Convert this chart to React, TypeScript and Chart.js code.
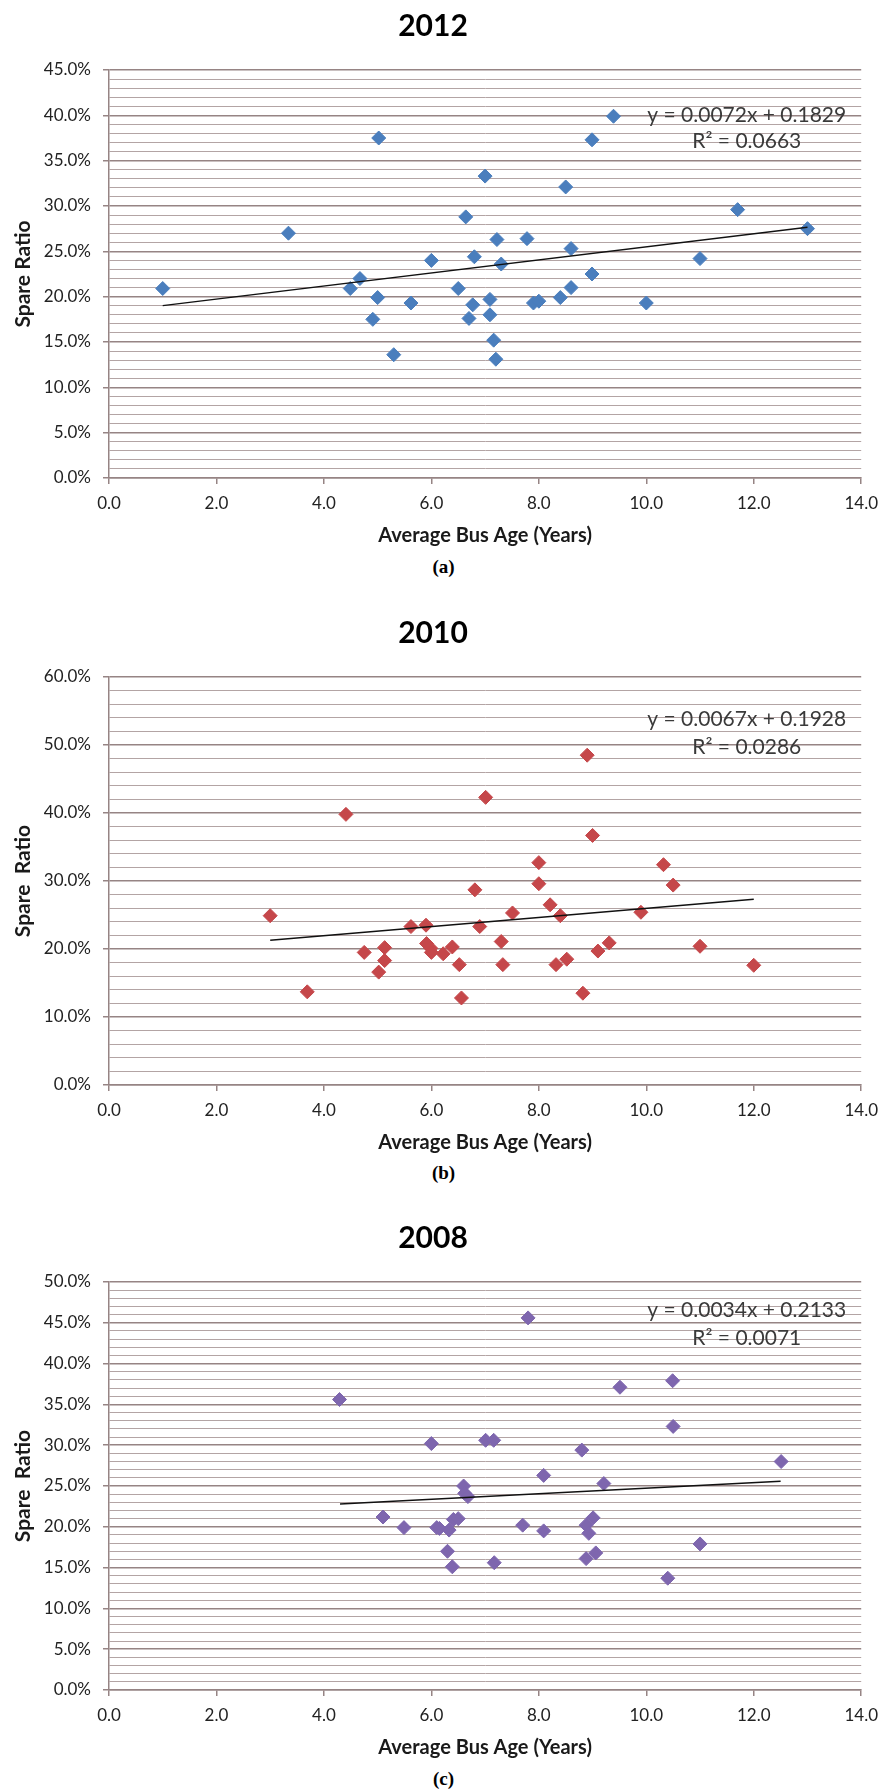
import React, { useEffect, useRef } from "react";
import { Chart, registerables } from "chart.js";

Chart.register(...registerables);

// ---- 2012 ----
const age2012 = [1.0, 3.34, 4.49, 4.67, 5.02, 5.0, 4.91, 5.3, 5.62, 6.0, 6.5, 6.64, 6.7, 6.77, 6.8, 7.0, 7.09, 7.09, 7.16, 7.2, 7.22, 7.3, 7.78, 7.9, 8.0, 8.4, 8.5, 8.6, 8.6, 8.99, 8.99, 9.39, 10.0, 11.0, 11.7, 13.0];
const spare2012 = [20.9, 27.0, 20.9, 22.0, 37.5, 19.9, 17.5, 13.6, 19.3, 24.0, 20.9, 28.8, 17.6, 19.1, 24.4, 33.3, 19.7, 18.0, 15.2, 13.1, 26.3, 23.6, 26.4, 19.3, 19.5, 19.9, 32.1, 25.3, 21.0, 37.3, 22.5, 39.9, 19.3, 24.2, 29.6, 27.5];
const slope2012 = 0.0072;
const intercept2012 = 0.1829;
const rSquared2012 = "0.0663";
const trendRange2012 = [1.0, 13.0];

// ---- 2010 ----
const age2010 = [3.0, 3.69, 4.41, 4.75, 5.02, 5.13, 5.13, 5.62, 5.9, 5.91, 5.99, 6.0, 6.22, 6.39, 6.52, 6.56, 6.81, 6.9, 7.01, 7.3, 7.33, 7.51, 8.0, 8.0, 8.21, 8.32, 8.4, 8.52, 8.82, 8.9, 9.0, 9.1, 9.31, 9.9, 10.32, 10.5, 11.0, 12.0];
const spare2010 = [24.9, 13.7, 39.8, 19.5, 16.6, 20.2, 18.3, 23.3, 23.5, 20.8, 20.1, 19.5, 19.3, 20.3, 17.7, 12.8, 28.7, 23.3, 42.3, 21.1, 17.7, 25.3, 32.7, 29.6, 26.5, 17.7, 24.9, 18.5, 13.5, 48.5, 36.7, 19.7, 20.9, 25.4, 32.4, 29.4, 20.4, 17.6];
const slope2010 = 0.0067;
const intercept2010 = 0.1928;
const rSquared2010 = "0.0286";
const trendRange2010 = [3.0, 12.0];

// ---- 2008 ----
const age2008 = [4.29, 5.1, 5.49, 6.0, 6.1, 6.15, 6.3, 6.33, 6.39, 6.41, 6.5, 6.6, 6.62, 6.68, 7.01, 7.16, 7.17, 7.7, 7.8, 8.09, 8.09, 8.8, 8.88, 8.88, 8.93, 9.01, 9.06, 9.21, 9.51, 10.4, 10.49, 10.5, 11.0, 12.51];
const spare2008 = [35.6, 21.2, 19.9, 30.2, 19.9, 19.8, 17.0, 19.6, 15.1, 20.9, 21.0, 25.0, 24.1, 23.7, 30.6, 30.6, 15.6, 20.2, 45.6, 26.3, 19.5, 29.4, 20.2, 16.1, 19.2, 21.1, 16.8, 25.3, 37.1, 13.7, 37.9, 32.3, 17.9, 28.0];
const slope2008 = 0.0034;
const intercept2008 = 0.2133;
const rSquared2008 = "0.0071";
const trendRange2008 = [4.3, 12.5];

// shared axis settings
const xTickMax = 14;
const xTickStep = 2;

const CANVAS_W = 887;
const CANVAS_H = 555;
const PLOT_LEFT = 109;
const PLOT_BOTTOM = 478;
const PLOT_RIGHT_PAD = 21;

const GRID_MAJOR = "#968484";
const GRID_MINOR = "#b3a4a4";
const TICK_TEXT = "#222222";

type PanelProps = {
  title: string;
  xs: number[];
  ys: number[];
  color: string;
  slope: number;
  intercept: number;
  r2: string;
  trendRange: number[];
  yMax: number;
  yMajor: number;
  yMinor: number;
  yTitle: string;
  eqPos: { x: number; y1: number; y2: number };
  top: number;
};

function fmtCoef(v: number) {
  return v.toFixed(4);
}

function Panel(props: PanelProps) {
  const ref = useRef<HTMLCanvasElement | null>(null);

  useEffect(() => {
    const canvas = ref.current;
    if (!canvas) return;
    const isMajor = (v: number) => {
      const q = v / props.yMajor;
      return Math.abs(q - Math.round(q)) < 1e-6;
    };
    const points = props.xs.map((x, i) => ({ x, y: props.ys[i] }));
    const trend = props.trendRange.map((x) => ({
      x,
      y: (props.slope * x + props.intercept) * 100,
    }));

    const equationPlugin = {
      id: "trendEquation",
      afterDatasetsDraw(chart: any) {
        const { ctx, scales } = chart;
        const px = scales.x.getPixelForValue(props.eqPos.x);
        ctx.save();
        ctx.font = "21px Lato";
        ctx.fillStyle = "#3a3a3a";
        ctx.textAlign = "center";
        ctx.textBaseline = "middle";
        ctx.fillText(
          `y = ${fmtCoef(props.slope)}x + ${fmtCoef(props.intercept)}`,
          px,
          scales.y.getPixelForValue(props.eqPos.y1)
        );
        ctx.fillText(`R² = ${props.r2}`, px, scales.y.getPixelForValue(props.eqPos.y2));
        ctx.restore();
      },
    };

    const chart = new Chart(canvas, {
      type: "scatter",
      data: {
        datasets: [
          {
            type: "scatter",
            data: points,
            pointStyle: "rectRot",
            pointRadius: 7,
            backgroundColor: props.color,
            borderColor: props.color,
            borderWidth: 1,
            order: 1,
          } as any,
          {
            type: "line",
            data: trend,
            borderColor: "#111111",
            borderWidth: 1.4,
            pointRadius: 0,
            fill: false,
            tension: 0,
            order: 0,
          } as any,
        ],
      },
      options: {
        responsive: false,
        animation: false,
        devicePixelRatio: 1,
        layout: { padding: { left: 0, right: PLOT_RIGHT_PAD, top: 0, bottom: 0 } },
        plugins: {
          legend: { display: false },
          tooltip: { enabled: false },
          title: {
            display: true,
            text: props.title,
            color: "#000",
            font: { family: "Lato", size: 30, weight: "bold" },
            padding: { top: 8, bottom: 26 },
          },
        },
        scales: {
          x: {
            type: "linear",
            min: 0,
            max: xTickMax,
            afterFit: (s: any) => {
              s.height = CANVAS_H - PLOT_BOTTOM;
            },
            ticks: {
              stepSize: xTickStep,
              autoSkip: false,
              padding: 9,
              color: TICK_TEXT,
              font: { family: "Lato", size: 17 },
              callback: (v: any) => Number(v).toFixed(1),
            },
            grid: {
              drawOnChartArea: false,
              drawTicks: true,
              tickLength: 6,
              color: GRID_MAJOR,
              tickColor: GRID_MAJOR,
              lineWidth: 1.5,
            },
            border: { color: GRID_MAJOR, width: 1.5 },
            title: {
              display: true,
              text: "Average Bus Age (Years)",
              color: "#1a1a1a",
              font: { family: "Lato", size: 20, weight: "bold" },
              padding: { top: 0, bottom: 7.5 },
            },
          },
          y: {
            type: "linear",
            min: 0,
            max: props.yMax,
            afterFit: (s: any) => {
              s.width = PLOT_LEFT;
            },
            ticks: {
              stepSize: props.yMinor,
              autoSkip: false,
              maxTicksLimit: 500,
              padding: 12,
              color: TICK_TEXT,
              font: { family: "Lato", size: 17 },
              callback: (v: any) => (isMajor(Number(v)) ? Number(v).toFixed(1) + "%" : ""),
            },
            grid: {
              drawTicks: true,
              tickLength: 6,
              color: (c: any) => (!c.tick || isMajor(c.tick.value) ? GRID_MAJOR : GRID_MINOR),
              lineWidth: (c: any) => (!c.tick || isMajor(c.tick.value) ? 1.5 : 1),
              tickColor: (c: any) =>
                !c.tick || isMajor(c.tick.value) ? GRID_MAJOR : "rgba(0,0,0,0)",
            },
            border: { color: GRID_MAJOR, width: 1.5 },
            title: {
              display: true,
              text: props.yTitle,
              color: "#1a1a1a",
              font: { family: "Lato", size: 21, weight: "bold" },
              padding: { top: 10.5, bottom: 0 },
            },
          },
        },
      } as any,
      plugins: [equationPlugin],
    });

    return () => chart.destroy();
  }, []);

  return (
    <canvas
      ref={ref}
      width={CANVAS_W}
      height={CANVAS_H}
      style={{
        position: "absolute",
        left: 0,
        top: props.top,
        width: CANVAS_W,
        height: CANVAS_H,
      }}
    />
  );
}

function Caption({ text, center }: { text: string; center: number }) {
  return (
    <div
      style={{
        position: "absolute",
        left: 0,
        width: CANVAS_W,
        top: center - 11,
        height: 22,
        lineHeight: "22px",
        textAlign: "center",
        fontFamily: "'Liberation Serif', 'Times New Roman', serif",
        fontWeight: "bold",
        fontSize: 19,
        color: "#000",
      }}
    >
      {text}
    </div>
  );
}

export default function App() {
  return (
    <div
      style={{
        position: "absolute",
        left: 0,
        top: 0,
        width: 887,
        height: 1789,
        background: "#ffffff",
        overflow: "hidden",
      }}
    >
      <Panel
        title="2012"
        xs={age2012}
        ys={spare2012}
        color="#4a7ebd"
        slope={slope2012}
        intercept={intercept2012}
        r2={rSquared2012}
        trendRange={trendRange2012}
        yMax={45}
        yMajor={5}
        yMinor={1}
        yTitle="Spare Ratio"
        eqPos={{ x: 11.87, y1: 40.0, y2: 37.1 }}
        top={0}
      />
      <Caption text="(a)" center={567} />
      <Panel
        title="2010"
        xs={age2010}
        ys={spare2010}
        color="#c5474a"
        slope={slope2010}
        intercept={intercept2010}
        r2={rSquared2010}
        trendRange={trendRange2010}
        yMax={60}
        yMajor={10}
        yMinor={2}
        yTitle="Spare  Ratio"
        eqPos={{ x: 11.87, y1: 53.8, y2: 49.7 }}
        top={607}
      />
      <Caption text="(b)" center={1173} />
      <Panel
        title="2008"
        xs={age2008}
        ys={spare2008}
        color="#7e66ae"
        slope={slope2008}
        intercept={intercept2008}
        r2={rSquared2008}
        trendRange={trendRange2008}
        yMax={50}
        yMajor={5}
        yMinor={1}
        yTitle="Spare  Ratio"
        eqPos={{ x: 11.87, y1: 46.5, y2: 43.1 }}
        top={1212}
      />
      <Caption text="(c)" center={1779} />
    </div>
  );
}
